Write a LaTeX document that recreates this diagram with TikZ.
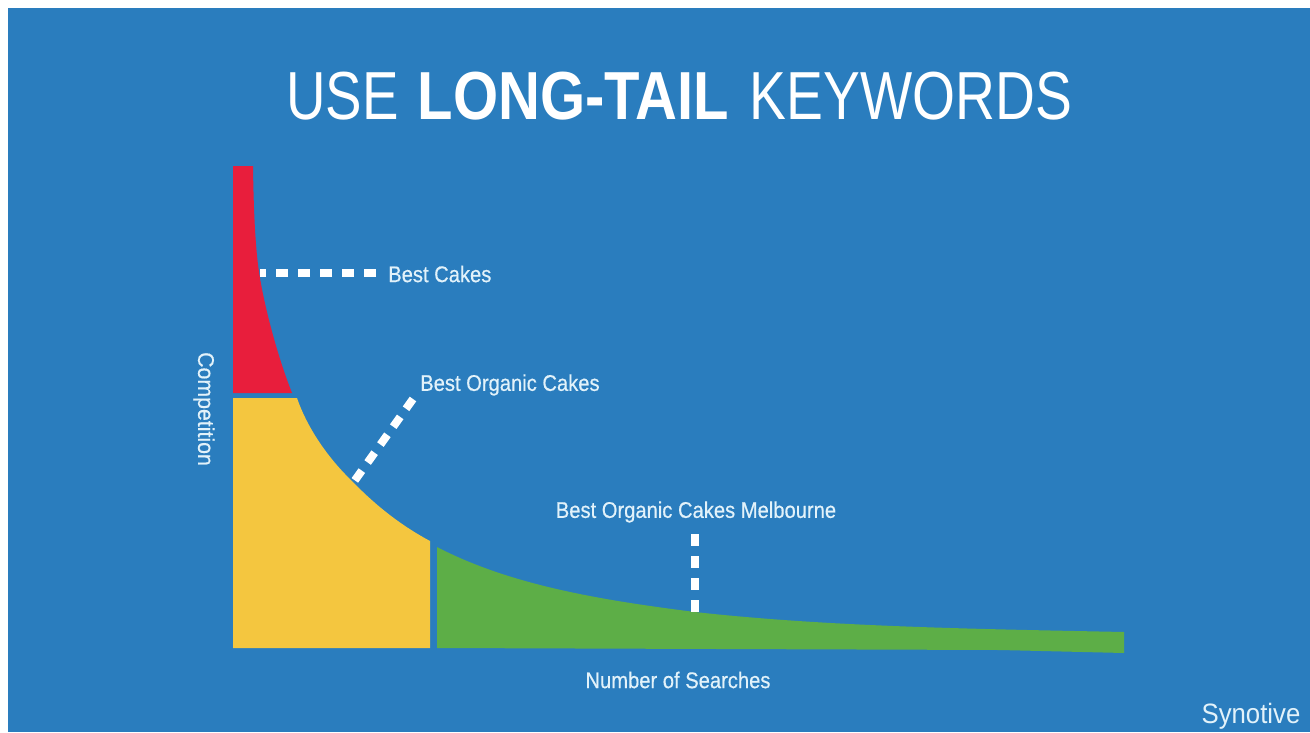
\documentclass[tikz,border=0pt]{standalone}
\usepackage{fontspec}
\setmainfont{Liberation Sans}
\definecolor{bgblue}{HTML}{2A7DBE}
\definecolor{cred}{HTML}{E81E3C}
\definecolor{cyellow}{HTML}{F4C63F}
\definecolor{cgreen}{HTML}{5DAE47}
\definecolor{labelc}{HTML}{E2F2FA}
\newfontfamily\labelfont[FakeBold=0.5]{Liberation Sans}
\tikzset{
 lab/.style={text=labelc,inner sep=0pt,font=\labelfont\fontsize{17}{17}\selectfont,xscale=.89},
 leader/.style={draw=white,line width=5.5pt,dash pattern=on 9pt off 7.5pt},
}
\begin{document}
\begin{tikzpicture}[x=0.75pt,y=-0.75pt]
\useasboundingbox (0,0) rectangle (1310,732);
\fill[white] (0,0) rectangle (1310,732);
\fill[bgblue] (8,8) rectangle (1310,732);
% areas
\fill[cred] (233,166) -- (253,166) .. controls (253.5,205) and (255,245) .. (259,272) .. controls (264,305) and (277,355) .. (292,393) -- (233,393) -- cycle;
\fill[cyellow] (233,398) -- (297,398) .. controls (308,430) and (330,460) .. (352,481) .. controls (376,506) and (402,526) .. (430,541) -- (430,648) -- (233,648) -- cycle;
\fill[cgreen] (437,547) .. controls (510,585) and (600,600) .. (695,612) .. controls (830,627) and (980,629) .. (1124,632) -- (1124,653) -- (1000,650) -- (437,648) -- cycle;
% named anchors
\coordinate (c1) at (260,273);
\coordinate (e1) at (376,273);
\coordinate (c2) at (353,483);
\coordinate (e2) at (413,399);
\coordinate (c3) at (695,612);
\coordinate (e3) at (695,534);
\node[lab,anchor=west] (n1) at (388,274) {Best Cakes};
\node[lab,anchor=west] (n2) at (420,385) {Best Organic Cakes};
\node[lab] (n3) at (696,512) {Best Organic Cakes Melbourne};
\node[lab] (n4) at (678,680) {Number of Searches};
\node[text=labelc,inner sep=0pt,font=\labelfont\fontsize{17}{17}\selectfont,rotate=-90] (n5) at (204,409) {\scalebox{.94}[1]{Competition}};
\node[text=labelc,inner sep=0pt,font=\fontsize{21}{21}\selectfont,xscale=.92] (n6) at (1251,716) {Synotive};
\draw[leader] (e1) -- (c1);
\draw[leader,line width=6pt] (e2) -- (c2);
\draw[leader] (e3) -- (c3);
\node[text=white,inner sep=0pt,font=\fontsize{51}{51}\selectfont,xscale=.84] (t) at (679,96) {\scalebox{.957}[1]{USE}\hspace{3pt} \scalebox{1.016}[1]{\textbf{LONG-TAIL}}\hspace{4pt} \scalebox{.967}[1]{KEYWORDS}};
\end{tikzpicture}
\end{document}
